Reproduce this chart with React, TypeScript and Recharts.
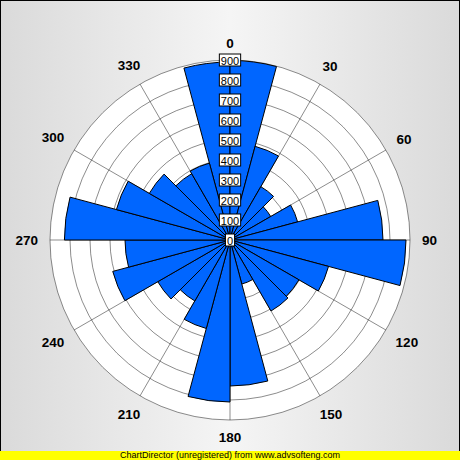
import React from 'react';
import {
  RadialBarChart,
  RadialBar,
  PolarAngleAxis,
  PolarRadiusAxis,
  PolarGrid,
} from 'recharts';

// ---- data ----
// Each sector is 15 degrees wide; it is keyed by the compass angle at which it ends
// (clockwise), so '15' is the sector from 0 to 15 and '0' the sector from 345 to 360.
const SECTOR_END = [
  '0', '15', '30', '45', '60', '75', '90', '105', '120', '135', '150', '165',
  '180', '195', '210', '225', '240', '255', '270', '285', '300', '315', '330', '345',
];
const VALUES = [
  890, 898, 485, 308, 235, 350, 765, 880, 510, 398, 410, 228,
  730, 810, 458, 352, 417, 607, 525, 828, 588, 466, 383, 398,
];
const ANGLE_LABELS = ['0', '30', '60', '90', '120', '150', '180', '210', '240', '270', '300', '330'];
const RADIUS_TICKS = [0, 100, 200, 300, 400, 500, 600, 700, 800, 900];

const data = SECTOR_END.map((dir, i) => ({ dir, value: VALUES[i] }));

const W = 460;
const H = 460;
const CX = 230;
const CY = 240;
const OUTER = 180;

const gridAngles = ANGLE_LABELS.map((a) => 90 - Number(a));

const AngleTick = (props: any) => {
  const { payload } = props;
  const label = String(payload.value);
  if (!ANGLE_LABELS.includes(label)) return <g />;
  const cx = props.cx ?? CX;
  const cy = props.cy ?? CY;
  const rad = (payload.coordinate * Math.PI) / 180;
  const w = label.length * 7.5;
  const h = 10;
  const c = Math.cos(rad);
  const s = Math.sin(rad);
  const r = OUTER + 12 + (Math.abs(c) * w) / 2 + (Math.abs(s) * h) / 2;
  const x = cx + r * c;
  const y = cy - r * s;
  return (
    <text
      x={x}
      y={y}
      textAnchor="middle"
      dominantBaseline="central"
      fontFamily="Arial, 'Liberation Sans', sans-serif"
      fontWeight="bold"
      fontSize={13.5}
      fill="#000"
    >
      {label}
    </text>
  );
};

const RadiusTick = (props: any) => {
  const { x, y, payload } = props;
  const label = String(payload.value);
  const w = label.length * 6.1 + 3;
  return (
    <g>
      <rect x={x - w / 2} y={y - 6} width={w} height={12} fill="#fff" stroke="#000" strokeWidth={1} />
      <text
        x={x}
        y={y + 0.5}
        textAnchor="middle"
        dominantBaseline="central"
        fontFamily="Arial, 'Liberation Sans', sans-serif"
        fontSize={11}
        fill="#000"
      >
        {label}
      </text>
    </g>
  );
};

export default function App() {
  return (
    <div
      style={{
        position: 'absolute',
        left: 0,
        top: 0,
        width: W,
        height: H,
        background: 'linear-gradient(to right, #dadada 0%, #f5f5f5 50%, #dadada 100%)',
        boxShadow: 'inset 0 0 0 1px #000',
        overflow: 'hidden',
      }}
    >
      <div
        style={{
          position: 'absolute',
          left: CX - OUTER,
          top: CY - OUTER,
          width: OUTER * 2,
          height: OUTER * 2,
          borderRadius: '50%',
          background: '#ffffff',
        }}
      />
      <div style={{ position: 'absolute', left: 0, top: 0 }}>
        <RadialBarChart
          width={W}
          height={H}
          cx={CX}
          cy={CY}
          innerRadius={0}
          outerRadius={OUTER}
          startAngle={90}
          endAngle={-270}
          data={data}
          layout="centric"
          barCategoryGap={0}
          barGap={0}
          margin={{ top: 0, right: 0, bottom: 0, left: 0 }}
        >
          <PolarAngleAxis
            angleAxisId="cat"
            dataKey="dir"
            type="category"
            tick={<AngleTick />}
            axisLine={false}
            tickLine={false}
          />
          <RadialBar
            dataKey="value"
            angleAxisId="cat"
            radiusAxisId="r"
            fill="#0066ff"
            stroke="#000"
            strokeWidth={1}
            isAnimationActive={false}
          />
          <PolarGrid
            angleAxisId="cat"
            radiusAxisId="r"
            gridType="circle"
            polarAngles={gridAngles}
            stroke="#000"
            strokeOpacity={0.45}
          />
          <PolarRadiusAxis
            radiusAxisId="r"
            type="number"
            domain={[0, 900]}
            ticks={RADIUS_TICKS}
            angle={90}
            axisLine={false}
            tickLine={false}
            tick={<RadiusTick />}
          />
        </RadialBarChart>
      </div>
      <div
        style={{
          position: 'absolute',
          left: 0,
          top: 451,
          width: W,
          height: 9,
          background: '#ffff00',
          fontFamily: "Arial, 'Liberation Sans', sans-serif",
          fontSize: 9,
          lineHeight: '9px',
          textAlign: 'center',
          color: '#000',
          whiteSpace: 'nowrap',
        }}
      >
        ChartDirector (unregistered) from www.advsofteng.com
      </div>
    </div>
  );
}
